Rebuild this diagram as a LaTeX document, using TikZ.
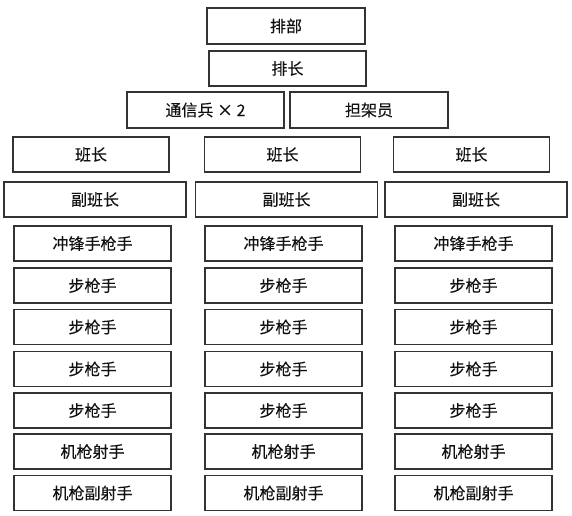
\documentclass[tikz,border=0pt]{standalone}
\usepackage{fontspec}
\setmainfont[FakeBold=0.15]{Noto Sans CJK SC}
\definecolor{edge}{HTML}{333333}
\definecolor{ink}{HTML}{111111}
\begin{document}
\begin{tikzpicture}[x=1pt,y=-1pt,
  box/.style={draw=edge, line width=1.7pt, fill=white, inner sep=0pt,
    minimum width=157pt, minimum height=35pt, text=ink,
    font=\fontsize{16pt}{18pt}\selectfont},
  widebox/.style={box, minimum width=182pt}]
\useasboundingbox (0,0) rectangle (572,515);
\node[box, minimum width=158pt, minimum height=36pt] (paibu) at (286,26) {排部};
\node[box] (paizhang) at (287.5,68.5) {排长};
\node[box, minimum height=36pt] (tongxin) at (205.5,110) {通信兵 × 2};
\node[box, minimum width=158pt, minimum height=36pt] (danjia) at (369,110) {担架员};
\foreach \c/\x in {L/91, M/282.5, R/471.5}
  \node[box, minimum width=156pt] (ban\c) at (\x,154.5) {班长};
\foreach \c/\x in {L/95, M/286.5, R/476}
  \node[widebox] (fu\c) at (\x,199.5) {副班长};
\foreach \c/\x in {L/92.5, M/283.5, R/473.5}
  \foreach \r/\y/\t in {1/243.5/冲锋手枪手, 2/285.5/步枪手, 3/327/步枪手,
      4/369/步枪手, 5/410.5/步枪手, 6/451.5/机枪射手, 7/493/机枪副射手}
    \node[box] (s\c\r) at (\x,\y) {\t};
\end{tikzpicture}
\end{document}
